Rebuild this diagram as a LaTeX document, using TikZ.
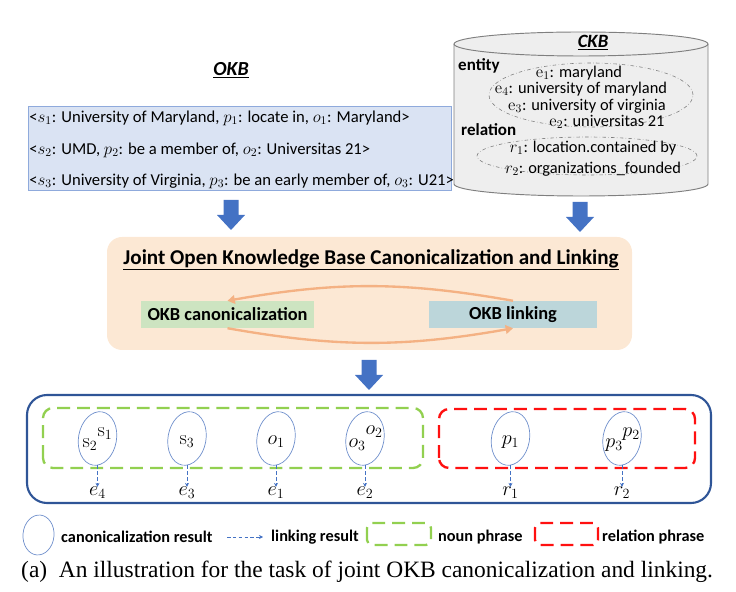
\documentclass[tikz,border=0pt]{standalone}
\usepackage[no-math]{fontspec}
\setmainfont{Carlito}
\newfontfamily\capfont{Liberation Serif}
\usepackage{tikz}
\usetikzlibrary{positioning,shapes.geometric,arrows.meta}
\definecolor{okbfill}{HTML}{DAE3F3}
\definecolor{okbdraw}{HTML}{8FAADC}
\definecolor{ckbfill}{HTML}{EEEEEE}
\definecolor{ckbdraw}{HTML}{7F7F7F}
\definecolor{arrowblue}{HTML}{4472C4}
\definecolor{jointfill}{HTML}{FCE8D4}
\definecolor{canongreen}{HTML}{CDE4C1}
\definecolor{linkteal}{HTML}{BCD6DA}
\definecolor{cycleorange}{HTML}{F4B183}
\definecolor{framenavy}{HTML}{2F5597}
\definecolor{noungreen}{HTML}{92D050}
\definecolor{relred}{HTML}{FF1010}
\definecolor{ellblue}{HTML}{7090CC}
\tikzset{
    triple/.style={anchor=west, inner sep=1pt, font=\fontsize{14.2}{16}\selectfont},
    ckbline/.style={inner sep=0pt, font=\fontsize{14}{16}\selectfont},
    ckbhead/.style={anchor=west, inner sep=0pt, font=\fontsize{14.5}{17}\selectfont\bfseries},
    stagebox/.style={
        rectangle,
        minimum height=0.81cm,
        font=\fontsize{15.7}{18}\selectfont\bfseries
    },
    canon/.style={ellipse, draw=ellblue, line width=0.6pt, minimum width=1.14cm, minimum height=1.62cm, inner sep=0pt},
    phrase/.style={inner sep=0pt, font=\LARGE},
    linkarrow/.style={draw=arrowblue, densely dashed, line width=0.5pt, -{Stealth[length=1.2mm,width=1.2mm]}},
    cyclearrow/.style={draw=cycleorange, line width=2pt, -{Triangle[length=2.2mm,width=2.6mm]}},
    nounbox/.style={draw=noungreen, line width=2pt, dash pattern=on 11pt off 6pt, rounded corners=0.3cm},
    relbox/.style={draw=relred, line width=2pt, dash pattern=on 11pt off 6pt, rounded corners=0.3cm},
    legend/.style={anchor=west, inner sep=0pt, font=\fontsize{13.9}{16}\selectfont\bfseries},
    downarrow/.pic={
        \fill[arrowblue] (-7.5,0) -- (-7.5,-15) -- (-14,-15) -- (0,-30) -- (14,-15) -- (7.5,-15) -- (7.5,0) -- cycle;
    }
}

\begin{document}
\begin{tikzpicture}[x=0.03cm,y=0.03cm]
        \useasboundingbox (0,0) rectangle (736,591);

        % OKB
        \node[font=\fontsize{17}{19}\selectfont\bfseries\itshape] (okbtitle) at (231,521) {\underline{OKB}};
        \draw[fill=okbfill, draw=okbdraw, line width=0.6pt] (28,401) rectangle (451,485);
        \node[triple] (t1) at (28,473) {<$s_1$: University of Maryland, $p_1$: locate in, $o_1$: Maryland>};
        \node[triple] (t2) at (28,441) {<$s_2$: UMD, $p_2$: be a member of, $o_2$: Universitas 21>};
        \node[triple] (t3) at (28,410) {<$s_3$: University of Virginia, $p_3$: be an early member of, $o_3$: U21>};

        % CKB
        \draw[fill=ckbfill, draw=ckbdraw, line width=0.8pt] (454,547) -- (454,407)
            arc[start angle=180, end angle=360, x radius=127, y radius=12] -- (708,547)
            arc[start angle=0, end angle=180, x radius=127, y radius=12] -- cycle;
        \draw[draw=ckbdraw, line width=0.8pt] (454,547) arc[start angle=180, end angle=360, x radius=127, y radius=12];
        \node[font=\fontsize{16}{18}\selectfont\bfseries\itshape] (ckbtitle) at (593,548) {\underline{CKB}};
        \node[ckbhead] (entity) at (458,525) {entity};
        \draw[ckbdraw, dash dot, line width=0.5pt] (591,496) ellipse (102 and 32);
        \node[ckbline] (e1) at (579,518) {$\mathrm{e}_1$: maryland};
        \node[ckbline] (e4) at (581,502) {$\mathrm{e}_4$: university of maryland};
        \node[ckbline] (e3) at (587,485) {$\mathrm{e}_3$: university of virginia};
        \node[ckbline] (e2) at (607,469) {$\mathrm{e}_2$: universitas 21};
        \node[ckbhead] (relation) at (461,461) {relation};
        \draw[ckbdraw, dash dot, line width=0.5pt] (587,435) ellipse (110 and 19);
        \node[ckbline] (r1) at (593,443) {$r_1$: location.contained by};
        \node[ckbline] (r2) at (593,422) {$r_2$: organizations\_founded};

        % Pfeile nach unten
        \pic at (231,391) {downarrow};
        \pic at (580,389) {downarrow};
        \pic at (369,231) {downarrow};

        % Joint box
        \draw[fill=jointfill, draw=none, rounded corners=0.45cm] (107,241) rectangle (632,354);
        \node[font=\fontsize{18}{20}\selectfont\bfseries] (jtitle) at (371,331) {\underline{Joint Open Knowledge Base Canonicalization and Linking}};
        \node[stagebox, fill=canongreen, minimum width=5.19cm] (canonbox) at (227.5,276.5) {OKB canonicalization};
        \node[stagebox, fill=linkteal, minimum width=5.04cm] (linkbox) at (513,276.5) {OKB linking};
        \draw[cyclearrow] (linkbox.north) to[out=170,in=10] (canonbox.north);
        \draw[cyclearrow] (canonbox.south) to[out=-10,in=190] (linkbox.south);

        % Ergebnis
        \draw[draw=framenavy, line width=1.8pt, rounded corners=0.6cm] (27,88) rectangle (711,196);
        \draw[nounbox] (43,123) rectangle (423,183);
        \draw[relbox] (439,123) rectangle (695,182);
        \foreach \n/\x/\lab in {1/97.5/e_4, 2/187/e_3, 3/276/e_1, 4/365/e_2, 5/510.5/r_1, 6/622/r_2}
        {
            \node[canon, rotate=-10] (c\n) at (\x,152.5) {};
            \node[phrase] (l\n) at (\x,98) {$\lab$};
            \draw[linkarrow] (c\n.south -| l\n) -- (l\n.north);
        }
        \node[phrase] (s1) at (105,157) {$\mathrm{s}_1$};
        \node[phrase] (s2) at (90,146) {$\mathrm{s}_2$};
        \node[phrase] (s3) at (187,149) {$\mathrm{s}_3$};
        \node[phrase] (o1) at (276,149) {$o_1$};
        \node[phrase] (o2) at (374,159) {$o_2$};
        \node[phrase] (o3) at (357,146) {$o_3$};
        \node[phrase] (p1) at (510.5,149) {$p_1$};
        \node[phrase] (p2) at (631,157) {$p_2$};
        \node[phrase] (p3) at (614,146) {$p_3$};

        % Legende
        \node[canon, minimum width=0.93cm, minimum height=1.2cm, rotate=-5] (lgc) at (38.5,56) {};
        \node[legend] (lgct) at (61,54) {canonicalization result};
        \coordinate (lga) at (227,54);
        \coordinate (lgb) at (263,54);
        \draw[linkarrow] (lga) -- (lgb);
        \node[legend] (lglt) at (271,54) {linking result};
        \draw[nounbox, rounded corners=0.15cm] (367,46) rectangle (431,68);
        \node[legend] (lgnt) at (438,54) {noun phrase};
        \draw[relbox, rounded corners=0.15cm] (535,46) rectangle (598,68);
        \node[legend] (lgrt) at (602,54) {relation phrase};

        % Caption
        \node[anchor=base west, inner sep=0pt, font=\capfont\fontsize{20}{23}\selectfont] (cap) at (21,14) {(a)\enspace An illustration for the task of joint OKB canonicalization and linking.};
    \end{tikzpicture}
\end{document}
